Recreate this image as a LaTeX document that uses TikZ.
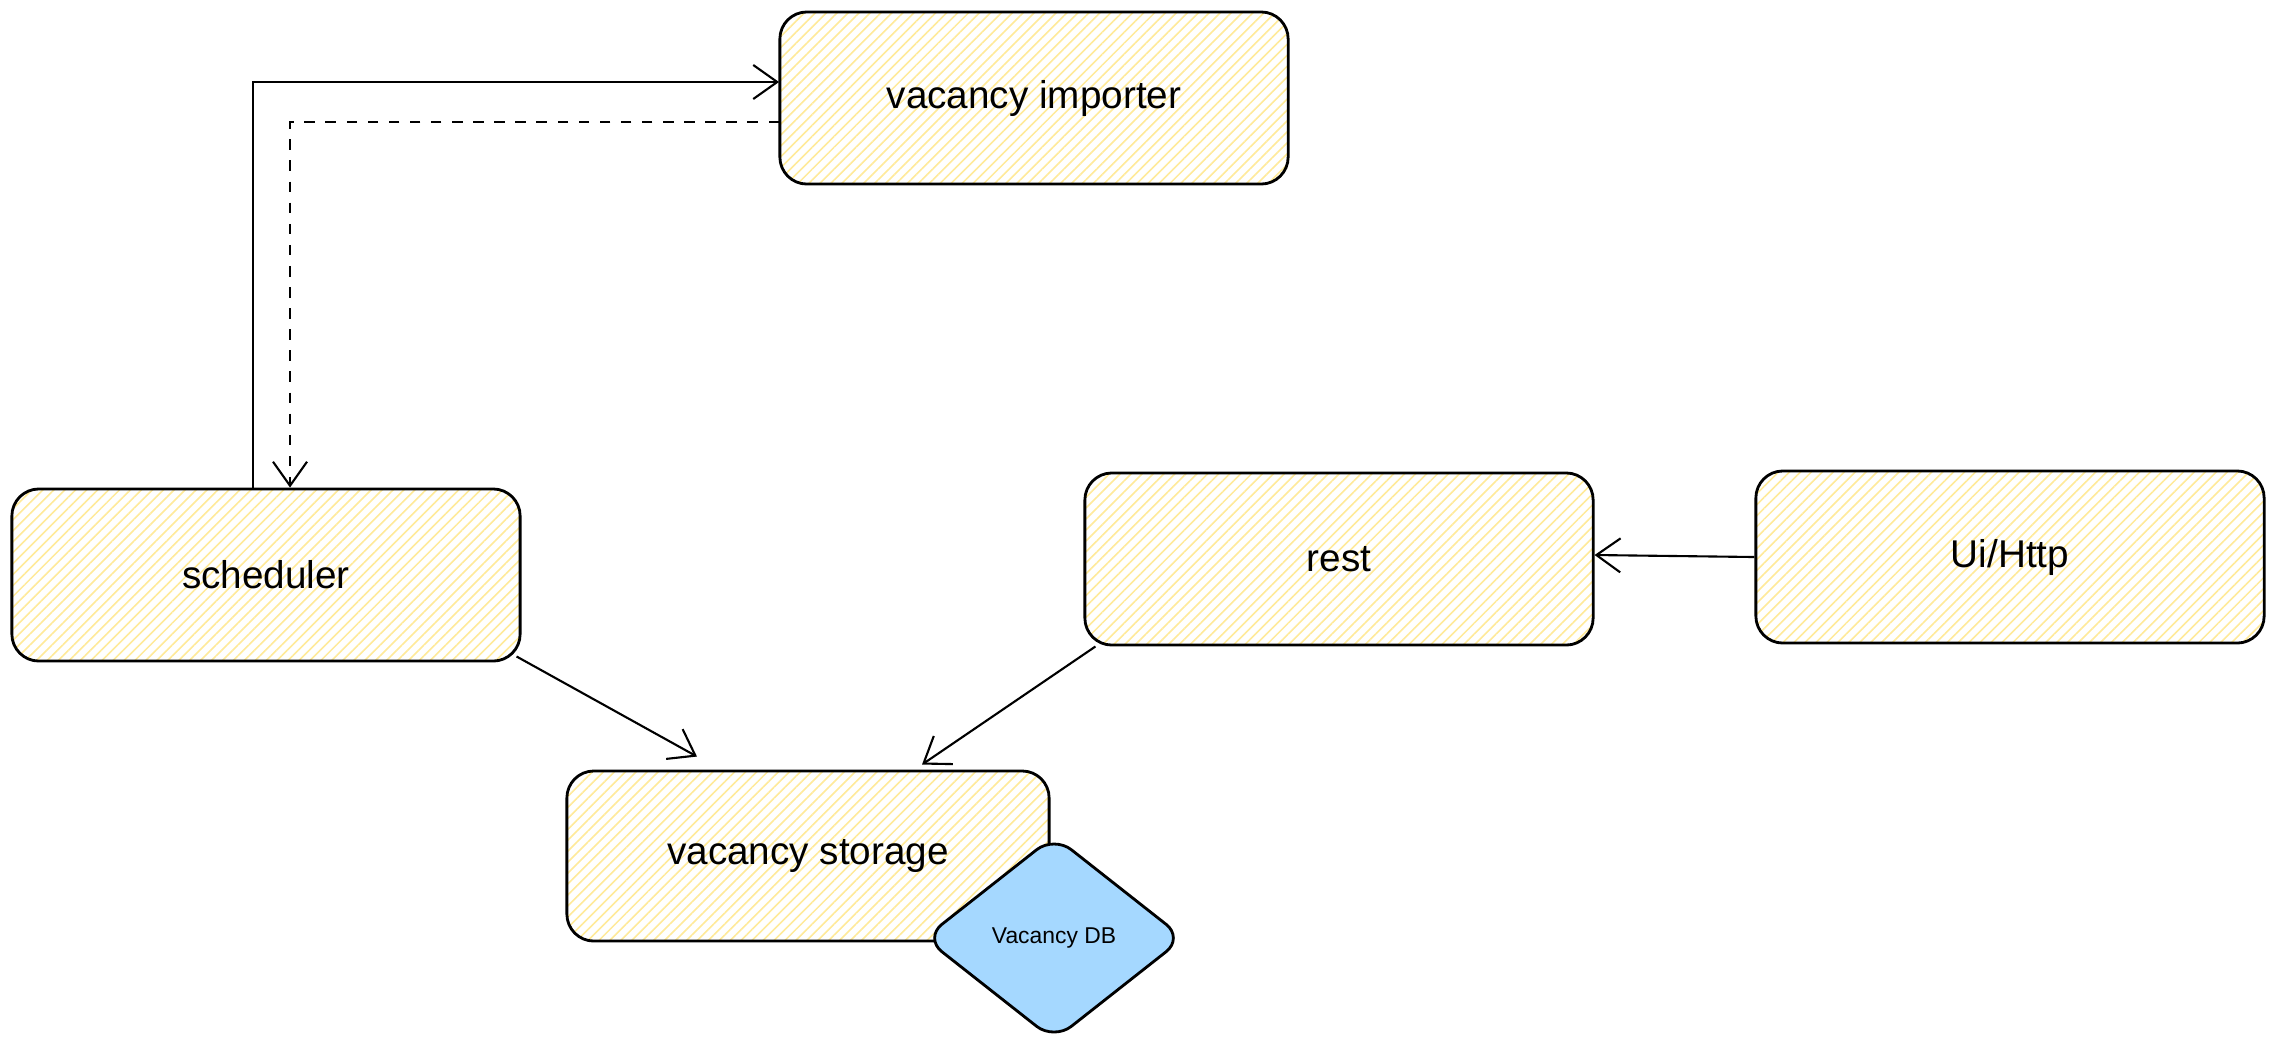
\documentclass[tikz,border=0pt]{standalone}
\usepackage{fontspec}
\setmainfont{Liberation Sans}
\usetikzlibrary{shapes,arrows.meta,calc,positioning,patterns.meta}
\definecolor{hatch}{HTML}{FFEA99}
\definecolor{dbblue}{HTML}{A5D8FF}
\begin{document}
\begin{tikzpicture}[x=0.01cm,y=-0.01cm,
  block/.style={draw,thick,rounded corners=0.27cm,minimum width=5.08cm,minimum height=1.72cm,
    preaction={fill=white},pattern={Lines[angle=45,distance=2.2pt,line width=0.45pt]},pattern color=hatch,
    font=\fontsize{11}{13}\selectfont},
  db/.style={draw,thick,diamond,fill=dbblue,rounded corners=0.22cm,minimum width=2.6cm,minimum height=2.05cm,
    inner sep=0pt,font=\fontsize{6.5}{8}\selectfont},
  arr/.style={semithick,-{Straight Barb[length=2.4mm,width=3.4mm]}}]

        \fill[white] (0,0) rectangle (2276,1047);
        \useasboundingbox (0,0) rectangle (2276,1047);

        \node[block] (imp) at (1034,98) {vacancy importer};
        \node[block] (sched) at (266,575) {scheduler};
        \node[block] (rest) at (1339,559) {rest};
        \node[block] (ui) at (2010,557) {Ui/Http};
        \node[block,minimum width=4.82cm,minimum height=1.7cm] (stor) at (808,856) {vacancy storage};
        \node[db] (dbnode) at (1054,938) {Vacancy DB};

        \draw[arr] ([xshift=-0.13cm]sched.north) |- ([yshift=0.16cm]imp.west);
        \draw[arr,dashed] ([yshift=-0.24cm]imp.west) -| ([xshift=0.24cm]sched.north);

        \draw[arr] ([shift={(-5,-6)}]sched.south east) -- ([shift={(-111,-13)}]stor.north);
        \draw[arr] ([shift={(12,0)}]rest.south west) -- ([shift={(114,-5)}]stor.north);
        \draw[arr] (ui.west) -- ([yshift=0.04cm]rest.east);
      \end{tikzpicture}
\end{document}
